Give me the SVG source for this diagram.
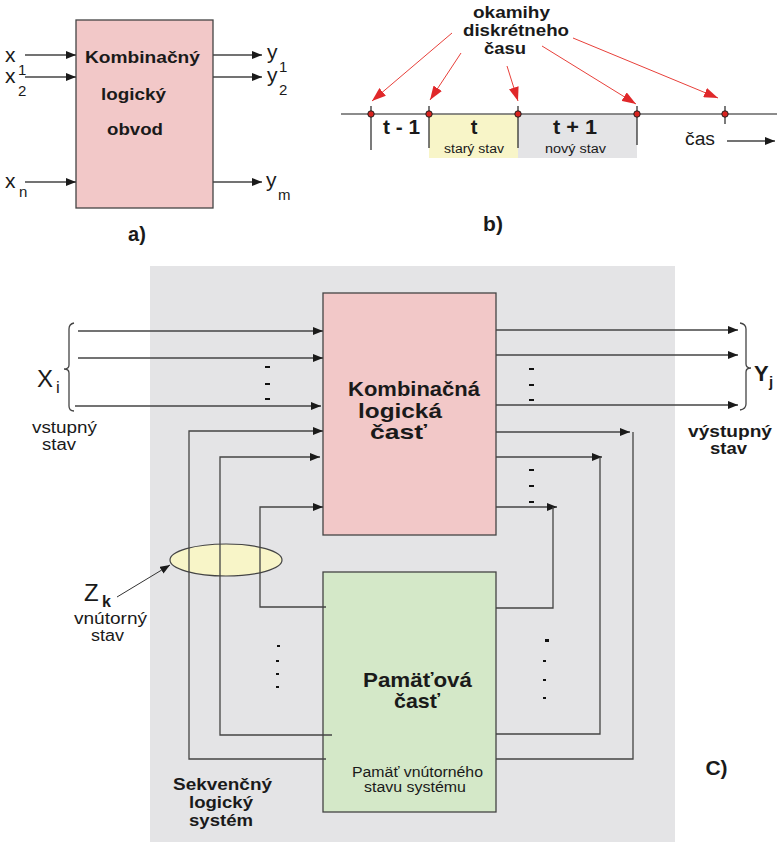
<svg xmlns="http://www.w3.org/2000/svg" width="777" height="842" viewBox="0 0 777 842">
  <defs>
    <marker id="arr" markerWidth="10" markerHeight="8" refX="10" refY="4" orient="auto" markerUnits="userSpaceOnUse">
      <path d="M0,0 L10,4 L0,8 Z" fill="#1a1a1a"/>
    </marker>
    <marker id="arrRed" markerWidth="14" markerHeight="10" refX="14" refY="5" orient="auto" markerUnits="userSpaceOnUse">
      <path d="M0,0 L14,5 L0,10 Z" fill="#e0282a"/>
    </marker>
    <style>
      .ln { stroke: #444; stroke-width: 1.3; fill: none; }
      .ar { stroke: #444; stroke-width: 1.3; fill: none; marker-end: url(#arr); }
      .red { stroke: #e8403a; stroke-width: 1; fill: none; marker-end: url(#arrRed); }
      .box { stroke: #444; stroke-width: 1.3; }
      .pink { fill: #f2c8c8; }
      .green { fill: #d4e8c8; }
      .yel { fill: #f8f5c8; }
      .gray { fill: #e4e4e6; }
      text { font-family: "Liberation Sans", Arial, sans-serif; fill: #1a1a1a; }
      .b { font-weight: bold; }
      .dash { stroke: #111; stroke-width: 2; }
      .dot { fill: #d8231f; stroke: #222; stroke-width: 1; }
    </style>
  </defs>

  <!-- a) combinational circuit -->
  <g id="comb-circuit">
    <rect x="76" y="20" width="137" height="188" class="pink box"/>
    <text x="142.5" y="63" class="b" font-size="17" text-anchor="middle" textLength="115" lengthAdjust="spacingAndGlyphs">Kombinačný</text>
    <text x="133.5" y="100" class="b" font-size="17" text-anchor="middle" textLength="65" lengthAdjust="spacingAndGlyphs">logický</text>
    <text x="135" y="135" class="b" font-size="17" text-anchor="middle" textLength="56" lengthAdjust="spacingAndGlyphs">obvod</text>
  </g>
  <g id="comb-io">
    <line x1="25" y1="55" x2="76" y2="55" class="ar"/>
    <line x1="25" y1="77" x2="76" y2="77" class="ar"/>
    <line x1="25" y1="182" x2="76" y2="182" class="ar"/>
    <line x1="213" y1="55" x2="262" y2="55" class="ar"/>
    <line x1="213" y1="77" x2="262" y2="77" class="ar"/>
    <line x1="213" y1="182" x2="262" y2="182" class="ar"/>
    <text x="5" y="62" font-size="21">x</text>
    <text x="18" y="75" font-size="15">1</text>
    <text x="5" y="83" font-size="21">x</text>
    <text x="18" y="96" font-size="15">2</text>
    <text x="5" y="188" font-size="21">x</text>
    <text x="19" y="197" font-size="15">n</text>
    <text x="267" y="59" font-size="21">y</text>
    <text x="279" y="72" font-size="15">1</text>
    <text x="267" y="82" font-size="21">y</text>
    <text x="279" y="95" font-size="15">2</text>
    <text x="266" y="187" font-size="21">y</text>
    <text x="278" y="200" font-size="15">m</text>
    <text x="137" y="241" class="b" font-size="20" text-anchor="middle">a)</text>
  </g>

  <!-- b) discrete time axis -->
  <g id="time-axis">
    <rect x="429" y="114" width="89" height="44" class="yel"/>
    <rect x="518" y="114" width="119" height="44" class="gray"/>
    <line x1="341" y1="114" x2="777" y2="114" stroke="#666" stroke-width="1.3"/>
    <line x1="371" y1="106" x2="371" y2="150" stroke="#222" stroke-width="1.2"/>
    <line x1="429" y1="106" x2="429" y2="148" stroke="#222" stroke-width="1.2"/>
    <line x1="518" y1="106" x2="518" y2="148" stroke="#222" stroke-width="1.2"/>
    <line x1="637" y1="106" x2="637" y2="145" stroke="#222" stroke-width="1.2"/>
    <line x1="725" y1="106" x2="725" y2="124" stroke="#222" stroke-width="1.2"/>
    <circle cx="371" cy="114" r="3.2" class="dot"/>
    <circle cx="429" cy="114" r="3.2" class="dot"/>
    <circle cx="518" cy="114" r="3.2" class="dot"/>
    <circle cx="637" cy="114" r="3.2" class="dot"/>
    <circle cx="725" cy="114" r="3.2" class="dot"/>
    <text x="401.5" y="134" class="b" font-size="20" text-anchor="middle" textLength="37" lengthAdjust="spacingAndGlyphs">t - 1</text>
    <text x="474" y="134" class="b" font-size="20" text-anchor="middle">t</text>
    <text x="575" y="134" class="b" font-size="20" text-anchor="middle" textLength="44" lengthAdjust="spacingAndGlyphs">t + 1</text>
    <text x="474" y="153" font-size="12.5" text-anchor="middle" textLength="60" lengthAdjust="spacingAndGlyphs">starý stav</text>
    <text x="575.5" y="153" font-size="12.5" text-anchor="middle" fill="#333" textLength="61" lengthAdjust="spacingAndGlyphs">nový stav</text>
    <text x="685" y="145" font-size="18" textLength="30" lengthAdjust="spacingAndGlyphs">čas</text>
    <line x1="727" y1="141" x2="775" y2="141" class="ar"/>
  </g>
  <g id="time-label">
    <text x="511.5" y="18" class="b" font-size="17" text-anchor="middle" textLength="77" lengthAdjust="spacingAndGlyphs">okamihy</text>
    <text x="516" y="36" class="b" font-size="17" text-anchor="middle" textLength="106" lengthAdjust="spacingAndGlyphs">diskrétneho</text>
    <text x="505" y="54" class="b" font-size="17" text-anchor="middle" textLength="42" lengthAdjust="spacingAndGlyphs">času</text>
    <text x="493" y="231" class="b" font-size="21" text-anchor="middle">b)</text>
  </g>
  <g id="time-connectors">
    <line x1="452" y1="33" x2="372" y2="101" class="red"/>
    <line x1="461" y1="53" x2="430" y2="100" class="red"/>
    <line x1="507" y1="66" x2="518" y2="101" class="red"/>
    <line x1="542" y1="46" x2="636" y2="104" class="red"/>
    <line x1="573" y1="38" x2="718" y2="98" class="red"/>
  </g>

  <!-- c) sequential logic system -->
  <g id="system-frame">
    <rect x="150" y="266" width="525" height="576" class="gray"/>
  </g>

  <g id="internal-state">
    <ellipse cx="226" cy="560" rx="56" ry="16" class="yel" stroke="#444" stroke-width="1.2"/>
  </g>

  <g id="comb-part">
    <rect x="323" y="293" width="173" height="242" class="pink box"/>
    <text x="348" y="396" class="b" font-size="21" textLength="132" lengthAdjust="spacingAndGlyphs">Kombinačná</text>
    <text x="358" y="418" class="b" font-size="21" textLength="84" lengthAdjust="spacingAndGlyphs">logická</text>
    <text x="370" y="439" class="b" font-size="21" textLength="57" lengthAdjust="spacingAndGlyphs">časť</text>
  </g>

  <g id="memory-part">
    <rect x="323" y="572" width="173" height="240" class="green box"/>
    <text x="363" y="687" class="b" font-size="21" textLength="109" lengthAdjust="spacingAndGlyphs">Pamäťová</text>
    <text x="394" y="708" class="b" font-size="21" textLength="46" lengthAdjust="spacingAndGlyphs">časť</text>
    <text x="352" y="777" font-size="14" textLength="131" lengthAdjust="spacingAndGlyphs">Pamäť vnútorného</text>
    <text x="364" y="792" font-size="14" textLength="102" lengthAdjust="spacingAndGlyphs">stavu systému</text>
  </g>

  <g id="connectors">
    <!-- inputs X -->
    <line x1="78" y1="331" x2="323" y2="331" class="ar"/>
    <line x1="78" y1="358" x2="323" y2="358" class="ar"/>
    <line x1="75" y1="406" x2="321" y2="406" class="ar"/>
    <!-- outputs Y -->
    <line x1="496" y1="330" x2="738" y2="330" class="ar"/>
    <line x1="496" y1="355" x2="738" y2="355" class="ar"/>
    <line x1="496" y1="405" x2="738" y2="405" class="ar"/>
    <!-- memory to combinational feedback -->
    <polyline points="326,759 189,759 189,431 323,431" class="ar"/>
    <polyline points="332,735 220,735 220,457 320,457" class="ar"/>
    <polyline points="326,607 260,607 260,507 323,507" class="ar"/>
    <!-- combinational to memory -->
    <polyline points="496,432 630,432" class="ar"/>
    <polyline points="633,432 633,759 496,759" class="ln"/>
    <polyline points="496,457 602,457" class="ar"/>
    <polyline points="600,457 600,734 496,734" class="ln"/>
    <polyline points="496,507 557,507" class="ar"/>
    <polyline points="553,507 553,608 496,608" class="ln"/>
    <!-- Zk pointer -->
    <line x1="117" y1="597" x2="170" y2="565" stroke="#333" stroke-width="1" marker-end="url(#arr)"/>
    <!-- braces -->
    <path d="M74,323 Q69,324 69,329 L69,365 Q69,369 64,369 Q69,369 69,373 L69,406 Q69,411 74,411" class="ln" stroke-width="1.2"/>
    <path d="M740,323 Q746,324 746,329 L746,364 Q746,368 751,368 Q746,368 746,372 L746,404 Q746,409 740,410" class="ln" stroke-width="1.2"/>
  </g>

  <g id="ellipsis-marks">
    <line x1="265" y1="367" x2="270" y2="367" class="dash"/>
    <line x1="265" y1="384" x2="270" y2="384" class="dash"/>
    <line x1="265" y1="399" x2="270" y2="399" class="dash"/>
    <line x1="529" y1="369" x2="534" y2="369" class="dash"/>
    <line x1="529" y1="385" x2="534" y2="385" class="dash"/>
    <line x1="529" y1="400" x2="534" y2="400" class="dash"/>
    <line x1="529" y1="470" x2="534" y2="470" class="dash"/>
    <line x1="529" y1="486" x2="534" y2="486" class="dash"/>
    <line x1="529" y1="502" x2="534" y2="502" class="dash"/>
    <rect x="277" y="645" width="3" height="2" fill="#111"/>
    <rect x="276" y="660" width="3" height="2" fill="#111"/>
    <rect x="276" y="673" width="3" height="2" fill="#111"/>
    <rect x="276" y="686" width="3" height="2" fill="#111"/>
    <rect x="545" y="639" width="4" height="3" fill="#111"/>
    <rect x="543" y="660" width="3" height="2" fill="#111"/>
    <rect x="543" y="679" width="3" height="2" fill="#111"/>
    <rect x="543" y="697" width="3" height="2" fill="#111"/>
  </g>

  <g id="labels">
    <text x="37" y="387" font-size="24">X</text>
    <text x="56" y="393" font-size="17">i</text>
    <text x="64.5" y="433" font-size="16" text-anchor="middle" textLength="65" lengthAdjust="spacingAndGlyphs">vstupný</text>
    <text x="59" y="450" font-size="16" text-anchor="middle" textLength="34" lengthAdjust="spacingAndGlyphs">stav</text>
    <text x="754" y="381" class="b" font-size="22">Y</text>
    <text x="769" y="387" class="b" font-size="15">j</text>
    <text x="730" y="437" class="b" font-size="16" text-anchor="middle" textLength="84" lengthAdjust="spacingAndGlyphs">výstupný</text>
    <text x="728.5" y="454" class="b" font-size="16" text-anchor="middle" textLength="37" lengthAdjust="spacingAndGlyphs">stav</text>
    <text x="84" y="601" font-size="24">Z</text>
    <text x="102" y="607" class="b" font-size="16">k</text>
    <text x="110.5" y="624" font-size="16" text-anchor="middle" textLength="73" lengthAdjust="spacingAndGlyphs">vnútorný</text>
    <text x="107.5" y="641" font-size="16" text-anchor="middle" textLength="33" lengthAdjust="spacingAndGlyphs">stav</text>
    <text x="222.5" y="790" class="b" font-size="17" text-anchor="middle" textLength="99" lengthAdjust="spacingAndGlyphs">Sekvenčný</text>
    <text x="221" y="808" class="b" font-size="17" text-anchor="middle" textLength="64" lengthAdjust="spacingAndGlyphs">logický</text>
    <text x="221" y="826" class="b" font-size="17" text-anchor="middle" textLength="64" lengthAdjust="spacingAndGlyphs">systém</text>
    <text x="716.5" y="775" class="b" font-size="21" text-anchor="middle">C)</text>
  </g>
</svg>
